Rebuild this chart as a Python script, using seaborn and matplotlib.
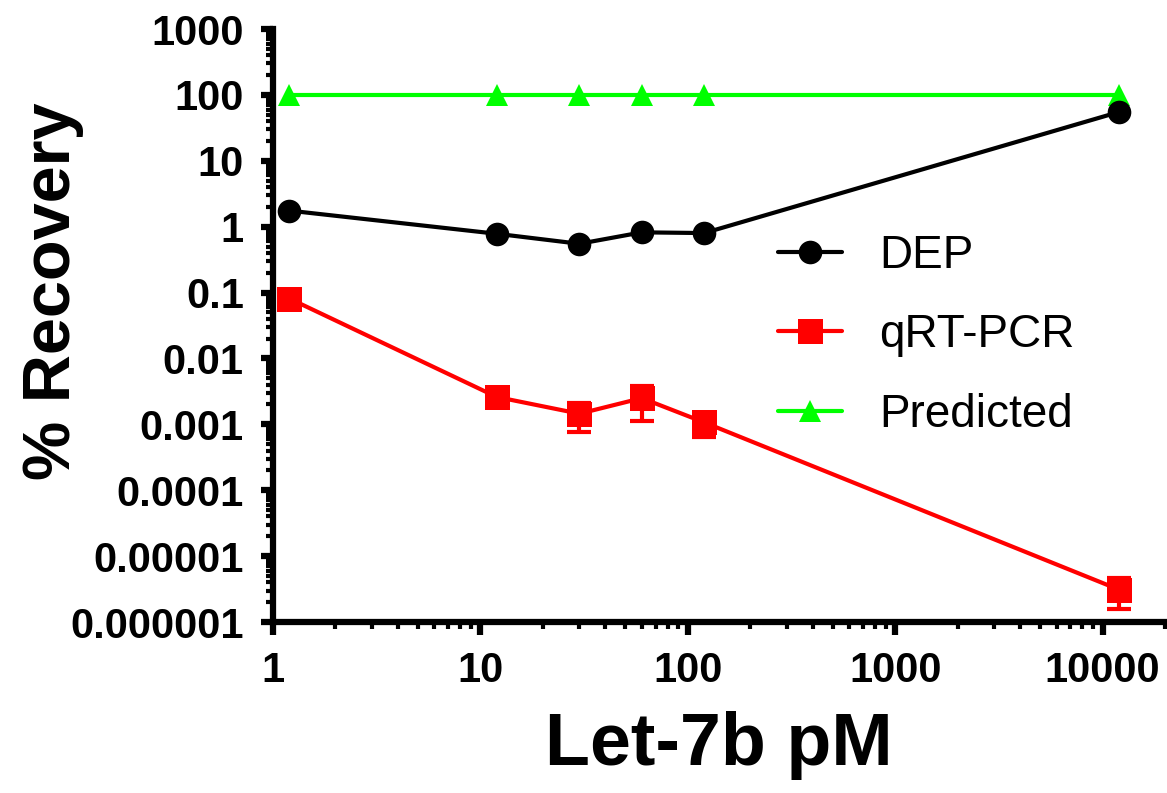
import matplotlib
matplotlib.use("Agg")
import matplotlib.pyplot as plt
import matplotlib.ticker as mticker
import seaborn as sns
import numpy as np
import pandas as pd

# ---- data ----
conc = [1.2, 12, 30, 60, 120, 12000]
dep = [1.75, 0.78, 0.55, 0.82, 0.80, 55]
qpcr = [0.081, 0.0026, 0.00145, 0.0025, 0.00107, 3.1e-6]
qpcr_err = [0.0, 0.0, 0.00068, 0.00136, 0.00042, 1.55e-6]
predicted = [100, 100, 100, 100, 100, 100]
series_names = ["DEP", "qRT-PCR", "Predicted"]

xticks = [1, 10, 100, 1000, 10000]
xtick_labels = ["1", "10", "100", "1000", "10000"]
yticks = [1e-6, 1e-5, 1e-4, 1e-3, 1e-2, 1e-1, 1, 10, 100, 1000]
ytick_labels = ["0.000001", "0.00001", "0.0001", "0.001", "0.01", "0.1",
                "1", "10", "100", "1000"]

sns.set_style("ticks")
plt.rcParams.update({
    "font.family": ["Liberation Sans", "DejaVu Sans"],
    "axes.edgecolor": "black",
    "axes.linewidth": 4,
    "text.color": "black",
    "axes.labelcolor": "black",
    "xtick.color": "black",
    "ytick.color": "black",
    "xtick.major.width": 4,
    "ytick.major.width": 4,
    "xtick.minor.width": 3,
    "ytick.minor.width": 3,
})

fig = plt.figure(figsize=(11.67, 7.93), dpi=100)
ax = fig.add_axes([273/1167, 1-622/793, (1165-273)/1167, (622-29)/793])

df = pd.DataFrame({"conc": conc, "DEP": dep, "qRT-PCR": qpcr,
                   "Predicted": predicted})

lw = 3.0
sns.lineplot(data=df, x="conc", y="DEP", ax=ax, color="black", marker="o",
             markersize=17, markeredgewidth=0, linewidth=lw,
             label=series_names[0], zorder=4, errorbar=None)
sns.lineplot(data=df, x="conc", y="qRT-PCR", ax=ax, color="#ff0000", marker="s",
             markersize=18, markeredgewidth=0, linewidth=lw,
             label=series_names[1], zorder=4, errorbar=None)
sns.lineplot(data=df, x="conc", y="Predicted", ax=ax, color="#00ff00", marker="^",
             markersize=16.5, markeredgewidth=0, linewidth=lw,
             label=series_names[2], zorder=3, errorbar=None)
ax.errorbar(conc, qpcr, yerr=qpcr_err, fmt="none", ecolor="#ff0000",
            elinewidth=3, capsize=8.5, capthick=3, zorder=3.5)

ax.set_xscale("log")
ax.set_yscale("log")
ax.set_xlim(1, 20000)
ax.set_ylim(1e-6, 1000)

ax.xaxis.set_major_locator(mticker.FixedLocator(xticks))
ax.xaxis.set_major_formatter(mticker.FixedFormatter(xtick_labels))
ax.yaxis.set_major_locator(mticker.FixedLocator(yticks))
ax.yaxis.set_major_formatter(mticker.FixedFormatter(ytick_labels))
ax.xaxis.set_minor_locator(mticker.LogLocator(base=10, subs=np.arange(2, 10), numticks=20))
ax.yaxis.set_minor_locator(mticker.LogLocator(base=10, subs=np.arange(2, 10), numticks=20))
ax.xaxis.set_minor_formatter(mticker.NullFormatter())
ax.yaxis.set_minor_formatter(mticker.NullFormatter())

ax.spines["top"].set_visible(False)
ax.spines["right"].set_visible(False)
ax.tick_params(which="major", length=9, width=4.5, direction="out", pad=12,
               labelsize=30, color="black", labelcolor="black")
ax.tick_params(which="minor", length=5, width=3, direction="out", color="black")
for lab in ax.get_xticklabels() + ax.get_yticklabels():
    lab.set_fontweight("bold")

ax.set_xlabel("Let-7b pM", fontsize=53, fontweight="bold", color="black")
ax.set_ylabel("% Recovery", fontsize=48, fontweight="bold", color="black")
ax.xaxis.set_label_coords(0.5, -0.150)
ax.yaxis.set_label_coords(-0.212, 0.557)

leg = ax.legend(loc="upper left", bbox_to_anchor=(778/1167, 1-234/793),
                bbox_transform=fig.transFigure, frameon=False, fontsize=33,
                handlelength=1.4, handletextpad=0.8, labelspacing=0.77,
                borderpad=0, borderaxespad=0)
for t in leg.get_texts():
    t.set_color("black")

ax.spines["left"].set_linewidth(4.5)
ax.spines["bottom"].set_linewidth(4.5)

fig.savefig("out.png", dpi=100)
